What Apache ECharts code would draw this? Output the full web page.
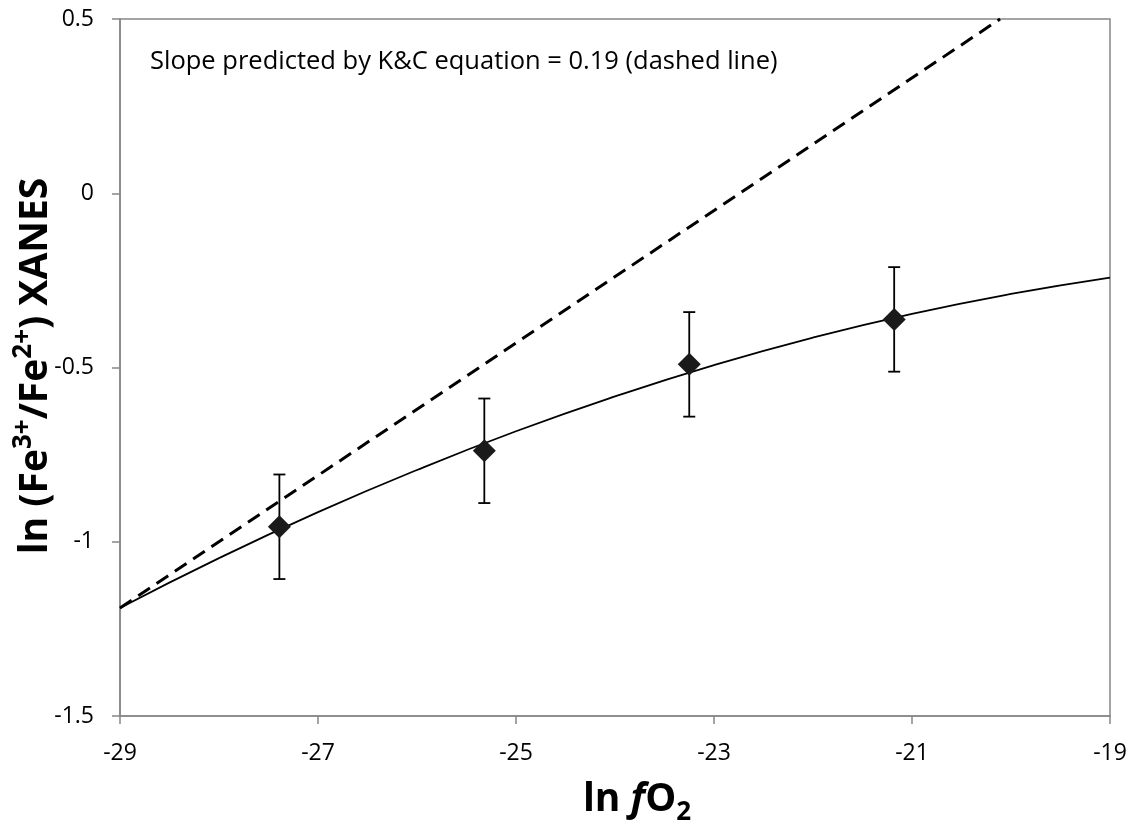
<!DOCTYPE html>
<html>
<head>
<meta charset="utf-8">
<script src="https://cdn.jsdelivr.net/npm/echarts@6/dist/echarts.min.js"></script>
<style>
  html, body { margin: 0; padding: 0; background: #fff; }
  #chart { width: 1133px; height: 826px; }
</style>
</head>
<body>
<div id="chart"></div>
<script>
// Measured Fe3+/Fe2+ ratios (XANES) against ln fO2
const lnFO2 = [-27.39, -25.32, -23.25, -21.18];
const lnRatio = [-0.957, -0.739, -0.491, -0.362];
const errHalf = [0.15, 0.15, 0.15, 0.15];

// Fitted trend through the measurements
const fitX = [-29, -28, -27, -26, -25, -24, -23, -22, -21, -20, -19];
const fitY = [-1.190, -1.047, -0.915, -0.794, -0.683, -0.583, -0.493, -0.414, -0.346, -0.289, -0.242];

// K&C predicted slope (0.19), straight dashed line
const kcX = [-29, -20.11];
const kcY = [-1.19, 0.5];

// Axis ticks
const xTicks = [-29, -27, -25, -23, -21, -19];
const yTicks = [-1.5, -1, -0.5, 0, 0.5];

const axisGray = '#868686';
const FONT = 'Open Sans';

const chart = echarts.init(document.getElementById('chart'), null, { renderer: 'canvas' });

const errData = lnFO2.map((x, i) => [x, lnRatio[i] - errHalf[i], lnRatio[i] + errHalf[i]]);

chart.setOption({
  animation: false,
  backgroundColor: '#ffffff',
  grid: {
    left: 120, right: 23, top: 19, bottom: 110,
    show: true, borderColor: axisGray, borderWidth: 1.5, backgroundColor: 'transparent'
  },
  xAxis: {
    type: 'value', min: -29, max: -19,
    splitLine: { show: false },
    axisLine: { show: true, onZero: false, lineStyle: { color: axisGray, width: 1.5 } },
    axisTick: { show: true, length: 8, inside: false, customValues: xTicks, lineStyle: { color: axisGray, width: 1.5 } },
    axisLabel: { customValues: xTicks, color: '#000', fontFamily: FONT, fontSize: 23, margin: 26 }
  },
  yAxis: {
    type: 'value', min: -1.5, max: 0.5,
    splitLine: { show: false },
    axisLine: { show: true, onZero: false, lineStyle: { color: axisGray, width: 1.5 } },
    axisTick: { show: true, length: 8, customValues: yTicks, lineStyle: { color: axisGray, width: 1.5 } },
    axisLabel: { customValues: yTicks, color: '#000', fontFamily: FONT, fontSize: 23, margin: 26 }
  },
  series: [
    {
      type: 'line', name: 'K&C',
      data: kcX.map((x, i) => [x, kcY[i]]),
      symbol: 'none', clip: true,
      lineStyle: { color: '#000', width: 3, type: [14, 8] },
      z: 2
    },
    {
      type: 'line', name: 'fit',
      data: fitX.map((x, i) => [x, fitY[i]]),
      symbol: 'none', smooth: true,
      lineStyle: { color: '#000', width: 1.8 },
      z: 3
    },
    {
      type: 'custom', name: 'error',
      data: errData,
      renderItem: function (params, api) {
        const x = api.value(0);
        const lo = api.coord([x, api.value(1)]);
        const hi = api.coord([x, api.value(2)]);
        const cap = 6;
        const st = { stroke: '#000', lineWidth: 1.8 };
        return {
          type: 'group',
          children: [
            { type: 'line', shape: { x1: lo[0], y1: lo[1], x2: hi[0], y2: hi[1] }, style: st },
            { type: 'line', shape: { x1: lo[0] - cap, y1: lo[1], x2: lo[0] + cap, y2: lo[1] }, style: st },
            { type: 'line', shape: { x1: hi[0] - cap, y1: hi[1], x2: hi[0] + cap, y2: hi[1] }, style: st }
          ]
        };
      },
      z: 4
    },
    {
      type: 'scatter', name: 'XANES',
      data: lnFO2.map((x, i) => [x, lnRatio[i]]),
      symbol: 'diamond', symbolSize: [23, 23],
      itemStyle: { color: '#1a1a1a', opacity: 1 },
      z: 5
    }
  ],
  graphic: [
    {
      type: 'text', x: 150, y: 62,
      style: {
        text: 'Slope predicted by K&C equation = 0.19 (dashed line)',
        fontFamily: FONT, fontSize: 25.5, fill: '#000',
        align: 'left', verticalAlign: 'middle'
      }
    },
    {
      type: 'text',
      x: 36, y: 366, rotation: Math.PI / 2,
      style: {
        text: 'ln (Fe{sup|3+}/Fe{sup|2+}) XANES',
        fontFamily: FONT, fontSize: 39, fontWeight: 'bold', fill: '#000',
        align: 'center', verticalAlign: 'middle',
        lineHeight: 50,
        rich: {
          sup: { fontFamily: FONT, fontSize: 26, fontWeight: 'bold', fill: '#000', verticalAlign: 'top', lineHeight: 28 }
        }
      }
    },
    {
      type: 'text',
      x: 637, y: 800,
      style: {
        text: 'ln {it|f}O{sub|2}',
        fontFamily: FONT, fontSize: 39, fontWeight: 'bold', fill: '#000',
        align: 'center', verticalAlign: 'middle',
        lineHeight: 52,
        rich: {
          it: { fontFamily: FONT, fontSize: 39, fontWeight: 'bold', fontStyle: 'italic', fill: '#000' },
          sub: { fontFamily: FONT, fontSize: 26, fontWeight: 'bold', fill: '#000', verticalAlign: 'bottom', lineHeight: 28 }
        }
      }
    }
  ]
});
</script>
</body>
</html>
